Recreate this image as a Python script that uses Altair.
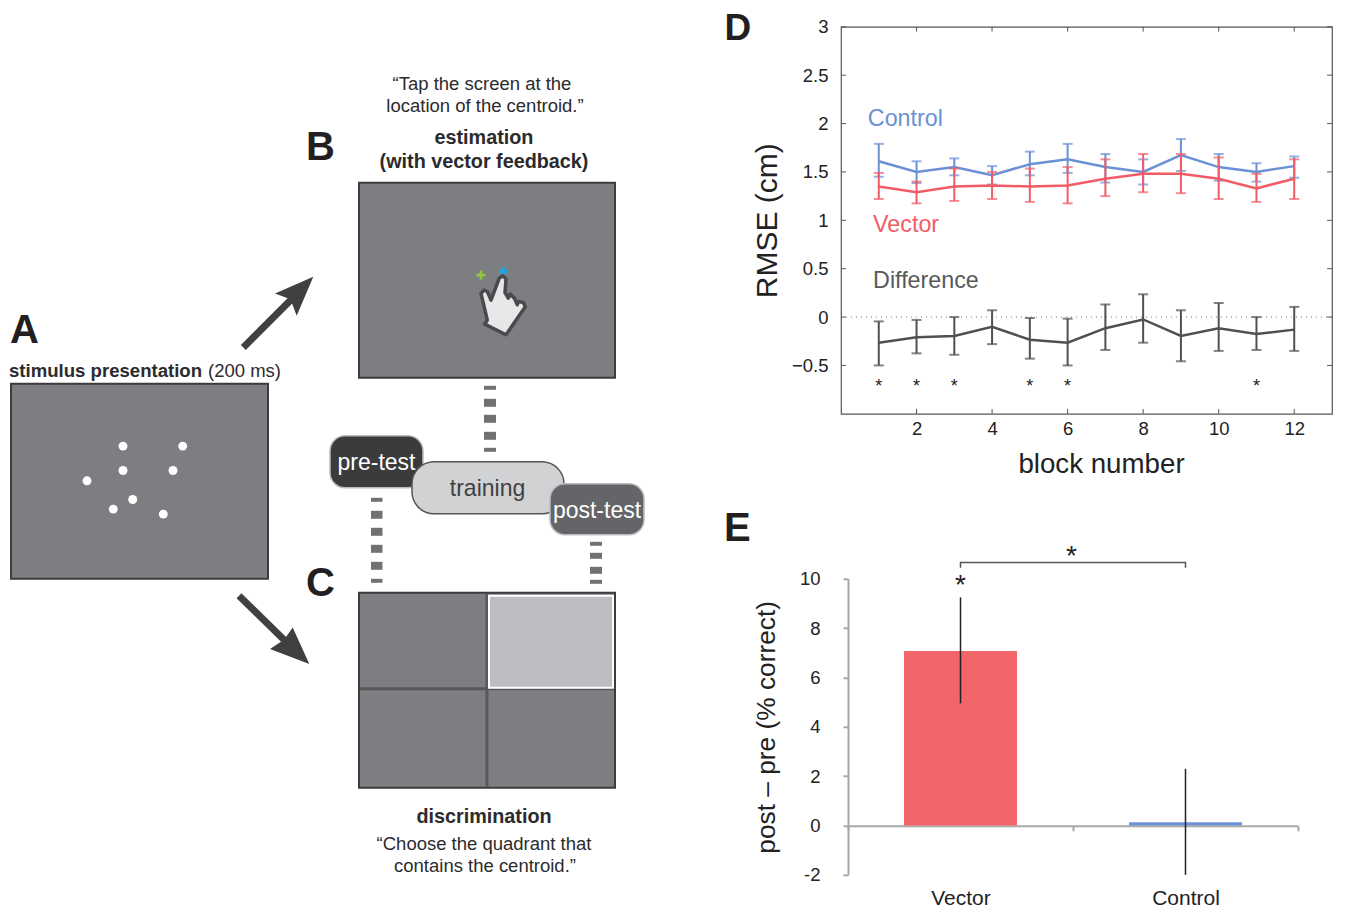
import altair as alt
import pandas as pd

FONT = "Liberation Sans"
BLOCKS = list(range(1, 13))
CONTROL = [1.61, 1.50, 1.55, 1.465, 1.58, 1.63, 1.55, 1.50, 1.675, 1.55, 1.50, 1.56]
CONTROL_HI = [1.79, 1.61, 1.64, 1.56, 1.71, 1.79, 1.685, 1.63, 1.84, 1.685, 1.59, 1.66]
CONTROL_LO = [1.45, 1.385, 1.465, 1.37, 1.465, 1.49, 1.39, 1.37, 1.51, 1.41, 1.40, 1.44]
VECTOR = [1.35, 1.29, 1.35, 1.36, 1.35, 1.36, 1.43, 1.48, 1.48, 1.43, 1.33, 1.43]
VECTOR_HI = [1.49, 1.40, 1.535, 1.50, 1.535, 1.55, 1.63, 1.685, 1.685, 1.65, 1.48, 1.63]
VECTOR_LO = [1.22, 1.175, 1.20, 1.22, 1.19, 1.175, 1.25, 1.29, 1.28, 1.22, 1.19, 1.22]
DIFF = [-0.265, -0.21, -0.195, -0.10, -0.235, -0.265, -0.115, -0.025, -0.195, -0.115, -0.175, -0.13]
DIFF_HI = [-0.045, -0.03, 0.0, 0.07, -0.01, -0.017, 0.13, 0.235, 0.07, 0.145, 0.0, 0.105]
DIFF_LO = [-0.5, -0.375, -0.39, -0.28, -0.43, -0.5, -0.34, -0.265, -0.457, -0.35, -0.34, -0.35]
STAR_BLOCKS = [1, 2, 3, 5, 6, 11]
D_YTICKS = [-0.5, 0, 0.5, 1, 1.5, 2, 2.5, 3]
D_XTICKS = [2, 4, 6, 8, 10, 12]

E_CATS = ["Vector", "Control"]
E_VALS = [7.07, 0.13]
E_HI = [9.25, 2.3]
E_LO = [4.95, -2.0]
E_COLORS = ["#f26669", "#6f94d6"]

BLUE, RED, DARK = "#6b91d5", "#f25c66", "#505052"
GREY, PANEL_EDGE = "#7d7e81", "#3c3c3e"

# ---------- schematic panels (left) ----------
XS = alt.Scale(domain=[8, 728])
YS = alt.Scale(domain=[875, 26])
X = alt.X("x:Q", scale=XS, axis=None)
Y = alt.Y("y:Q", scale=YS, axis=None)
PANELS = pd.DataFrame({"x": [11, 359, 359], "x2": [268, 615, 615], "y": [383, 182, 592], "y2": [578, 377, 787]})
QUAD = pd.DataFrame({"x": [489], "x2": [613], "y": [595], "y2": [687]})
DIVIDERS = pd.DataFrame({"x": [487, 360], "x2": [487, 614], "y": [593, 688], "y2": [786, 688]})
DOTS = pd.DataFrame({"x": [123, 182.7, 123, 173, 87, 132.7, 113.3, 163.3],
                     "y": [445.3, 445.3, 469.7, 469.7, 480, 498.7, 508.3, 513.3]})
DASH_X = [484, 371, 590]
DASH_W = [12, 11.5, 12]
DASH_TOP = [[385, 398, 414, 431, 447], [497, 510, 527, 544, 561, 578], [541, 552, 566, 579]]
DASH_BOT = [[389, 406, 422, 439, 451], [501, 518, 535, 552, 569, 582], [545, 558, 573, 583]]
dash_rows = []
for xx, w, tops, bots in zip(DASH_X, DASH_W, DASH_TOP, DASH_BOT):
    for t, b in zip(tops, bots):
        dash_rows.append({"x": xx, "x2": xx + w, "y": t, "y2": b})
DASHES = pd.DataFrame(dash_rows)

HAND = [(-0.7, -22.7), (-9, -0.7), (-12.7, -9.3), (-16, -10.7), (-19, -7.3), (-12.7, 19.3), (-15.3, 23.3),
        (6, 34), (25.3, 6), (23.3, 1.7), (18.3, 0.7), (17.3, 4), (14.3, -2.7), (10, -6.7), (8.3, -2.7),
        (5, -8.3), (6, -21.7), (2.7, -25)]
HEAD_UP = [(23.3, -24), (-15, -7.3), (0.5, -1.5), (6.7, 15)]
HEAD_DOWN = [(24.3, 23.3), (-15, 8.3), (-1, -1), (7.7, -13.3)]
PLUS = [(-1.4, -4.5), (1.4, -4.5), (1.4, -1.4), (4.5, -1.4), (4.5, 1.4), (1.4, 1.4), (1.4, 4.5),
        (-1.4, 4.5), (-1.4, 1.4), (-4.5, 1.4), (-4.5, -1.4), (-1.4, -1.4)]


def path(points):
    return "M" + " L".join(f"{a},{b}" for a, b in points) + " Z"


def rects(df, **kw):
    return alt.Chart(df).mark_rect(**kw).encode(x=X, x2="x2:Q", y=Y, y2="y2:Q")


def box(x, x2, y, y2, fill, stroke, radius, sw=1.5):
    return rects(pd.DataFrame({"x": [x], "x2": [x2], "y": [y], "y2": [y2]}),
                 fill=fill, stroke=stroke, strokeWidth=sw, cornerRadius=radius)


def text(rows, size, color="#2b2b2d", weight="normal", align="center"):
    df = pd.DataFrame(rows, columns=["x", "y", "t"])
    return alt.Chart(df).mark_text(font=FONT, fontSize=size, color=color, fontWeight=weight,
                                   align=align, baseline="middle").encode(x=X, y=Y, text="t:N")


def glyph(x, y, pts, fill, stroke=None, sw=0):
    kw = dict(stroke=stroke, strokeWidth=sw, strokeJoin="round") if stroke else dict(strokeWidth=0)
    return alt.Chart(pd.DataFrame({"x": [x], "y": [y]})).mark_point(
        shape=path(pts), size=4, filled=True, fill=fill, opacity=1, **kw).encode(x=X, y=Y)


SHAFTS = pd.DataFrame({"x": [243.3, 239], "y": [346.7, 595], "x2": [292, 285], "y2": [298, 640]})

left = alt.layer(
    rects(PANELS, fill=GREY, stroke=PANEL_EDGE, strokeWidth=2),
    alt.Chart(DIVIDERS).mark_rule(color="#58585a", strokeWidth=3).encode(x=X, x2="x2:Q", y=Y, y2="y2:Q"),
    rects(QUAD, fill="#bcbdc0", stroke="#ffffff", strokeWidth=2),
    alt.Chart(DOTS).mark_circle(size=80, color="#ffffff", opacity=1).encode(x=X, y=Y),
    rects(DASHES, fill="#717174"),
    alt.Chart(SHAFTS).mark_rule(color="#404042", strokeWidth=7).encode(x=X, x2="x2:Q", y=Y, y2="y2:Q"),
    glyph(290, 300, HEAD_UP, "#404042"),
    glyph(285, 640, HEAD_DOWN, "#404042"),
    glyph(481, 274.3, PLUS, "#8dc63f"),
    glyph(503.3, 270.5, PLUS, "#1ba6df"),
    glyph(500, 300, HAND, "#e6e7e8", "#4a4a4c", 3.5),
    box(330, 423, 435, 487, "#3b3b3c", "#bcbdc0", 15),
    box(412, 564, 461, 513, "#d1d2d4", "#555557", 22),
    box(550, 644, 483, 534, "#646568", "#bcbdc0", 15),
    text([(376.5, 462, "pre-test"), (597, 510, "post-test")], 23, "#ffffff"),
    text([(487.5, 488, "training")], 23, "#414042"),
    text([(482, 83, "\u201cTap the screen at the"), (485, 105, "location of the centroid.\u201d"),
          (484, 843, "\u201cChoose the quadrant that"), (485, 865, "contains the centroid.\u201d")], 18.5),
    text([(484, 137, "estimation"), (484, 161, "(with vector feedback)"), (484, 816, "discrimination")],
         19.8, weight="bold"),
    text([(9, 370, "stimulus presentation")], 18.6, weight="bold", align="left"),
    text([(208, 370, "(200 ms)")], 18.5, align="left"),
    text([(10, 330, "A"), (306, 147, "B"), (306, 583, "C"), (724, 528, "E")], 40, "#231f20", "bold", "left"),
    text([(724.5, 28.4, "D")], 37, "#231f20", "bold", "left"),
).properties(width=720, height=849)

# ---------- D ----------
DXS = alt.Scale(domain=[0, 13])
DYS = alt.Scale(domain=[-1, 3])
D_X_AXIS = alt.Axis(values=D_XTICKS, grid=False, domain=False, ticks=False, labelFont=FONT, labelFontSize=18.5,
                    labelColor="#222222", labelPadding=6, title="block number", titleFont=FONT,
                    titleFontSize=27.7, titleFontWeight="normal", titleColor="#222222", titlePadding=12,
                    titleX=260)
D_Y_AXIS = alt.Axis(values=D_YTICKS, grid=False, domain=False, ticks=False, format="~g", labelFont=FONT,
                    labelFontSize=18.5, labelColor="#222222", labelPadding=13, title="RMSE (cm)",
                    titleFont=FONT, titleFontSize=30, titleFontWeight="normal", titleColor="#222222",
                    titlePadding=9)


def dx(field="b:Q"):
    return alt.X(field, scale=DXS, axis=D_X_AXIS)


def dy(field="v:Q"):
    return alt.Y(field, scale=DYS, axis=D_Y_AXIS)


def series(mean, hi, lo, color):
    df = pd.DataFrame({"b": BLOCKS, "v": mean, "hi": hi, "lo": lo})
    base = alt.Chart(df)
    return [
        base.mark_rule(color=color, strokeWidth=2).encode(x=dx(), y=dy("hi:Q"), y2="lo:Q"),
        base.mark_tick(color=color, size=10, thickness=2, orient="horizontal").encode(x=dx(), y=dy("hi:Q")),
        base.mark_tick(color=color, size=10, thickness=2, orient="horizontal").encode(x=dx(), y=dy("lo:Q")),
        base.mark_line(color=color, strokeWidth=2.5).encode(x=dx(), y=dy()),
    ]


def edge_ticks(df):
    return alt.Chart(df).mark_rule(color="#555557", strokeWidth=1).encode(
        x=dx(), x2="b2:Q", y=dy(), y2="v2:Q")


TICK_LX = 0.13
TICK_LY = 0.05
ticks_rows = []
for v in D_YTICKS:
    ticks_rows += [{"b": 0, "b2": TICK_LX, "v": v, "v2": v}, {"b": 13, "b2": 13 - TICK_LX, "v": v, "v2": v}]
for b in D_XTICKS:
    ticks_rows += [{"b": b, "b2": b, "v": -1, "v2": -1 + TICK_LY}, {"b": b, "b2": b, "v": 3, "v2": 3 - TICK_LY}]


def d_label(b, v, t, color, size=23.3):
    return alt.Chart(pd.DataFrame({"b": [b], "v": [v], "t": [t]})).mark_text(
        font=FONT, fontSize=size, color=color, align="left", baseline="middle").encode(
        x=dx(), y=dy(), text="t:N")


zero = alt.Chart(pd.DataFrame({"v": [0]})).mark_rule(color="#777777", strokeWidth=1, strokeDash=[1, 4]).encode(y=dy())
stars = alt.Chart(pd.DataFrame({"b": STAR_BLOCKS, "v": [-0.72] * len(STAR_BLOCKS), "t": ["*"] * len(STAR_BLOCKS)})).mark_text(
    font=FONT, fontSize=18, color="#222222", baseline="middle").encode(x=dx(), y=dy(), text="t:N")

panel_d = alt.layer(
    *series(CONTROL, CONTROL_HI, CONTROL_LO, BLUE),
    *series(VECTOR, VECTOR_HI, VECTOR_LO, RED),
    zero,
    *series(DIFF, DIFF_HI, DIFF_LO, DARK),
    edge_ticks(pd.DataFrame(ticks_rows)),
    stars,
    d_label(0.71, 2.05, "Control", BLUE),
    d_label(0.85, 0.95, "Vector", RED),
    d_label(0.85, 0.37, "Difference", "#58595b"),
).properties(width=491, height=387, view=alt.ViewBackground(stroke="#555557", strokeWidth=1.2))

# ---------- E ----------
EX_SCALE = alt.Scale(domain=E_CATS, range=[7, 457], paddingInner=0, paddingOuter=0)
E_X_AXIS = alt.Axis(title=None, grid=False, labelAngle=0, tickBand="extent", offset=-49, tickSize=5,
                    tickColor="#a8a8a8", domainColor="#a8a8a8", domainWidth=2, tickWidth=2,
                    labelFont=FONT, labelFontSize=21, labelColor="#222222", labelPadding=57)
EY_SCALE = alt.Scale(domain=[-2, 10])
E_Y_AXIS = alt.Axis(values=[-2, 0, 2, 4, 6, 8, 10], grid=False, offset=-7, tickSize=5, tickColor="#a8a8a8",
                    domainColor="#a8a8a8", domainWidth=2, tickWidth=2, labelExpr="'' + datum.value",
                    labelFont=FONT, labelFontSize=18.5, labelColor="#222222", labelPadding=23,
                    title="post \u2013 pre  (% correct)", titleFont=FONT, titleFontSize=26.3,
                    titleFontWeight="normal", titleColor="#222222", titlePadding=19)


def ex():
    return alt.X("c:N", sort=E_CATS, scale=EX_SCALE, axis=E_X_AXIS)


def ey(field="v:Q"):
    return alt.Y(field, scale=EY_SCALE, axis=E_Y_AXIS)


edf = pd.DataFrame({"c": E_CATS, "v": E_VALS, "hi": E_HI, "lo": E_LO, "col": E_COLORS})
BRACKET = pd.DataFrame({"c": ["Vector", "Vector", "Control", "Control"], "v": [10.45, 10.66, 10.66, 10.45], "o": [0, 1, 2, 3]})
E_STARS = pd.DataFrame({"c": ["Vector"], "v": [9.7], "t": ["*"]})
E_STARS2 = pd.DataFrame({"c": ["Vector"], "v": [10.88], "t": ["*"]})

panel_e = alt.layer(
    alt.Chart(edf).mark_bar(size=113).encode(x=ex(), y=ey(), color=alt.Color("col:N", scale=None)),
    alt.Chart(edf).mark_rule(color="#222222", strokeWidth=1.5).encode(x=ex(), y=ey("hi:Q"), y2="lo:Q"),
    alt.Chart(BRACKET).mark_line(color="#555557", strokeWidth=1.5).encode(x=ex(), y=ey(), order="o:Q"),
    alt.Chart(E_STARS).mark_text(font=FONT, fontSize=28, color="#222222", baseline="middle").encode(
        x=ex(), y=ey(), text="t:N"),
    alt.Chart(E_STARS2).mark_text(font=FONT, fontSize=28, color="#222222", baseline="middle", dx=111).encode(
        x=ex(), y=ey(), text="t:N"),
).properties(width=457, height=296)

right = alt.vconcat(panel_d, panel_e, spacing=165, bounds="flush")
chart = alt.hconcat(left, right, spacing=113, bounds="flush").properties(
    padding={"left": 0, "top": 1.8, "right": 0, "bottom": 0}
).configure_view(stroke=None)

chart.save("out.html", embed_options={"renderer": "svg", "actions": False})
